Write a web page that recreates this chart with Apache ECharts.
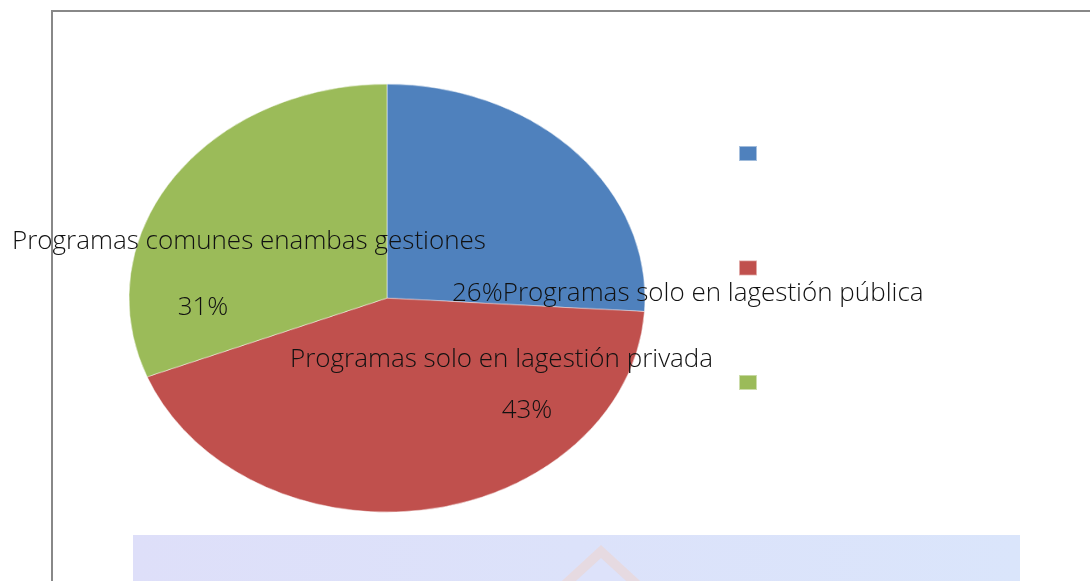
<!DOCTYPE html>
<html lang="es" style="height: 100%">
<head>
  <meta charset="utf-8">
</head>
<body style="height: 100%; margin: 0; background: #fff">
  <div id="pie" style="position: absolute; left: 0; top: 0; width: 1090px; height: 700px; transform: scaleY(0.8295); transform-origin: 0 0;"></div>
  <div id="container" style="position: absolute; left: 0; top: 0; width: 1090px; height: 581px;"></div>

  <script type="text/javascript" src="https://cdn.jsdelivr.net/npm/echarts@6/dist/echarts.min.js"></script>
  <script>
    // datos
    var categorias = ['Programas solo en lagestión pública', 'Programas solo en lagestión privada', 'Programas comunes enambas gestiones'];
    var valores = [26, 43, 31];
    var colores = ['#4f81bd', '#c0504d', '#9bbb59'];

    var fuente = 'Open Sans';
    var total = valores.reduce(function (a, b) { return a + b; }, 0);
    function pct(i) { return Math.round(valores[i] / total * 100) + '%'; }

    // pie dibujado en un div escalado en vertical para la forma elíptica
    var pieChart = echarts.init(document.getElementById('pie'), null, { renderer: 'canvas' });
    pieChart.setOption({
      animation: false,
      color: colores,
      legend: {
        orient: 'vertical',
        left: 738,
        top: 175,
        padding: 0,
        itemWidth: 18,
        itemHeight: 18,
        itemGap: 118,
        icon: 'rect',
        selectedMode: false,
        formatter: function () { return ''; },
        data: categorias
      },
      series: [{
        type: 'pie',
        center: [387, 359.3],
        radius: 258,
        startAngle: 90,
        clockwise: true,
        label: { show: false },
        labelLine: { show: false },
        itemStyle: { borderColor: 'rgba(255,255,255,0.5)', borderWidth: 1 },
        emphasis: { disabled: true },
        data: categorias.map(function (c, i) { return { name: c, value: valores[i] }; })
      }]
    });

    // capa superior: marco, etiquetas y marca de agua
    var myChart = echarts.init(document.getElementById('container'), null, { renderer: 'canvas' });
    var estiloTexto = { fontFamily: fuente, fontSize: 26, fontWeight: 300, fill: '#111' };
    function texto(str, x, y, align) {
      return {
        type: 'text', x: x, y: y, z: 10,
        style: Object.assign({ text: str, textAlign: align || 'left', textVerticalAlign: 'middle' }, estiloTexto)
      };
    }

    var option = {
      animation: false,
      graphic: [
        // marca de agua inferior
        {
          type: 'rect', shape: { x: 133, y: 535, width: 887, height: 50 }, z: 1,
          style: {
            fill: new echarts.graphic.LinearGradient(0, 0, 1, 0, [
              { offset: 0, color: '#dedff9' },
              { offset: 1, color: '#dae5fb' }
            ])
          }
        },
        {
          type: 'polygon', z: 2,
          shape: { points: [[601, 545], [650, 590], [552, 590]] },
          style: { fill: 'rgba(255,200,170,0.3)' }
        },
        {
          type: 'polygon', z: 3,
          shape: { points: [[601, 558], [636, 590], [566, 590]] },
          style: { fill: '#dde2fa' }
        },
        // marco
        { type: 'line', z: 5, shape: { x1: 52, y1: 11, x2: 1090, y2: 11 }, style: { stroke: '#888', lineWidth: 2 } },
        { type: 'line', z: 5, shape: { x1: 52, y1: 10, x2: 52, y2: 581 }, style: { stroke: '#888', lineWidth: 2 } },
        // etiquetas de datos
        texto(categorias[2], 12, 242),
        texto(pct(2), 203, 308, 'center'),
        texto(pct(0) + categorias[0], 452, 294),
        texto(categorias[1], 290, 360),
        texto(pct(1), 527, 411, 'center')
      ]
    };

    myChart.setOption(option);
  </script>
</body>
</html>
